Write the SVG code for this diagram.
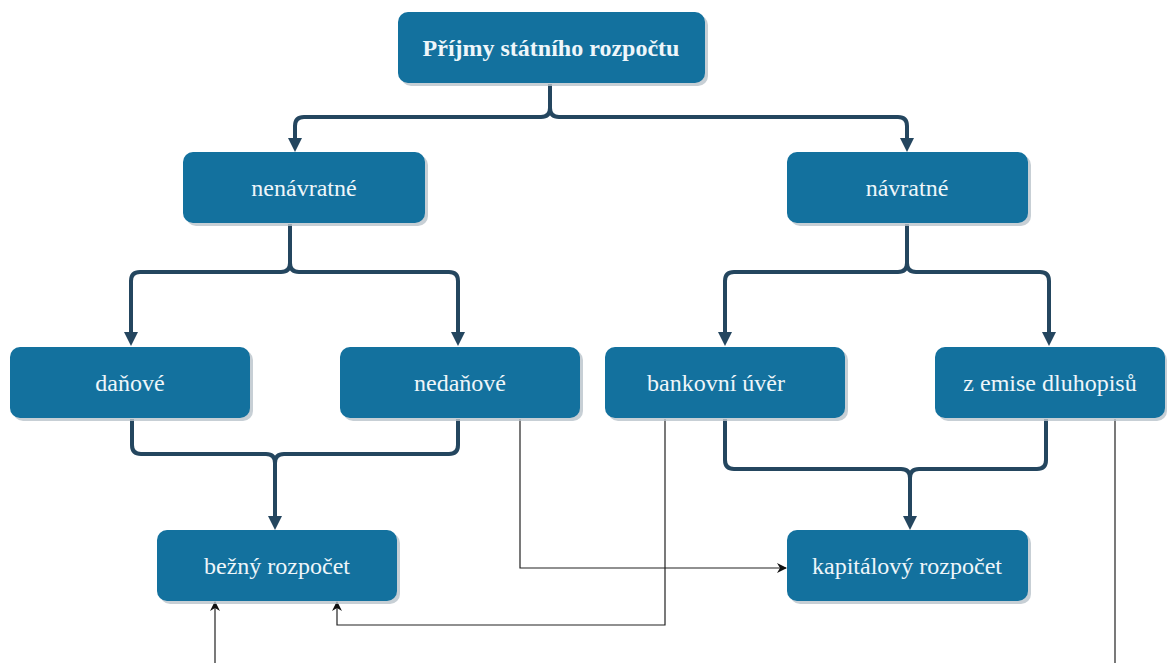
<svg xmlns="http://www.w3.org/2000/svg" width="1167" height="663" viewBox="0 0 1167 663">
<style>
.box{fill:#13719e}
.sh{fill:#b9c3cb;opacity:0.8}
.t{font-family:"Liberation Serif","Times New Roman",serif;font-size:24px;fill:#eef6fa;text-anchor:middle}
.b{font-weight:bold}
.thick{fill:none;stroke:#24465f;stroke-width:4;stroke-linejoin:round}
.thin{fill:none;stroke:#222;stroke-width:1.2}
</style>
<defs>
<marker id="ab" markerWidth="14" markerHeight="14" refX="7" refY="13" orient="auto-start-reverse" markerUnits="userSpaceOnUse" viewBox="0 0 14 14">
<path d="M0,0 L14,0 L7,14 Z" fill="#24465f" transform="rotate(0)"/>
</marker>
<marker id="at" markerWidth="10" markerHeight="10" refX="9" refY="5" orient="auto" markerUnits="userSpaceOnUse" viewBox="0 0 10 10">
<path d="M0,0 L10,5 L0,10 L3,5 Z" fill="#111"/>
</marker>
</defs>
<rect width="1167" height="663" fill="#fff"/>
<g id="connectors">
<path class="thick" d="M550,84 V108 Q550,117 541,117 H304 Q295,117 295,126 V138"/>
<path class="thick" d="M550,84 V108 Q550,117 559,117 H898 Q907,117 907,126 V138"/>
<path class="thick" d="M290,224 V263 Q290,272 281,272 H140 Q131,272 131,281 V332"/>
<path class="thick" d="M290,224 V263 Q290,272 299,272 H449 Q458,272 458,281 V332"/>
<path class="thick" d="M907,224 V263 Q907,272 898,272 H734 Q725,272 725,281 V332"/>
<path class="thick" d="M907,224 V263 Q907,272 916,272 H1040 Q1049,272 1049,281 V332"/>
<path class="thick" d="M132,419 V445 Q132,454 141,454 H266 Q275,454 275,463 V516"/>
<path class="thick" d="M458,419 V445 Q458,454 449,454 H284 Q275,454 275,463"/>
<path class="thick" d="M725,419 V460 Q725,469 734,469 H901 Q910,469 910,478 V516"/>
<path class="thick" d="M1046,419 V460 Q1046,469 1037,469 H919 Q910,469 910,478"/>
<path d="M268,516 H282 L275,530 Z" fill="#24465f"/>
<path d="M903,516 H917 L910,530 Z" fill="#24465f"/>
<path d="M288,138 H302 L295,152 Z" fill="#24465f"/>
<path d="M900,138 H914 L907,152 Z" fill="#24465f"/>
<path d="M124,332 H138 L131,346 Z" fill="#24465f"/>
<path d="M451,332 H465 L458,346 Z" fill="#24465f"/>
<path d="M718,332 H732 L725,346 Z" fill="#24465f"/>
<path d="M1042,332 H1056 L1049,346 Z" fill="#24465f"/>
<path class="thin" d="M520,419 V568 H786" marker-end="url(#at)"/>
<path class="thin" d="M665,419 V625 H337 V602" marker-end="url(#at)"/>
<path class="thin" d="M1115,419 V690 H215 V602" marker-end="url(#at)"/>
</g>
<g id="n-root">
<rect class="sh" x="401" y="15" width="307" height="71" rx="10"/>
<rect class="box" x="398" y="12" width="307" height="71" rx="10"/>
<text class="t b" x="551" y="56">Příjmy státního rozpočtu</text>
</g>
<g id="n-nenavratne">
<rect class="sh" x="186" y="155" width="242" height="71" rx="10"/>
<rect class="box" x="183" y="152" width="242" height="71" rx="10"/>
<text class="t" x="304" y="196">nenávratné</text>
</g>
<g id="n-navratne">
<rect class="sh" x="790" y="155" width="241" height="71" rx="10"/>
<rect class="box" x="787" y="152" width="241" height="71" rx="10"/>
<text class="t" x="907" y="196">návratné</text>
</g>
<g id="n-danove">
<rect class="sh" x="13" y="350" width="240" height="71" rx="10"/>
<rect class="box" x="10" y="347" width="240" height="71" rx="10"/>
<text class="t" x="130" y="391">daňové</text>
</g>
<g id="n-nedanove">
<rect class="sh" x="343" y="350" width="240" height="71" rx="10"/>
<rect class="box" x="340" y="347" width="240" height="71" rx="10"/>
<text class="t" x="460" y="391">nedaňové</text>
</g>
<g id="n-bankovni">
<rect class="sh" x="608" y="350" width="240" height="71" rx="10"/>
<rect class="box" x="605" y="347" width="240" height="71" rx="10"/>
<text class="t" x="716" y="391">bankovní úvěr</text>
</g>
<g id="n-emise">
<rect class="sh" x="938" y="350" width="229" height="71" rx="10"/>
<rect class="box" x="935" y="347" width="230" height="71" rx="10"/>
<text class="t" x="1050" y="391">z emise dluhopisů</text>
</g>
<g id="n-bezny">
<rect class="sh" x="160" y="533" width="240" height="71" rx="10"/>
<rect class="box" x="157" y="530" width="240" height="71" rx="10"/>
<text class="t" x="277" y="574">bežný rozpočet</text>
</g>
<g id="n-kapitalovy">
<rect class="sh" x="790" y="533" width="241" height="71" rx="10"/>
<rect class="box" x="787" y="530" width="241" height="71" rx="10"/>
<text class="t" x="907" y="574">kapitálový rozpočet</text>
</g>
</svg>
